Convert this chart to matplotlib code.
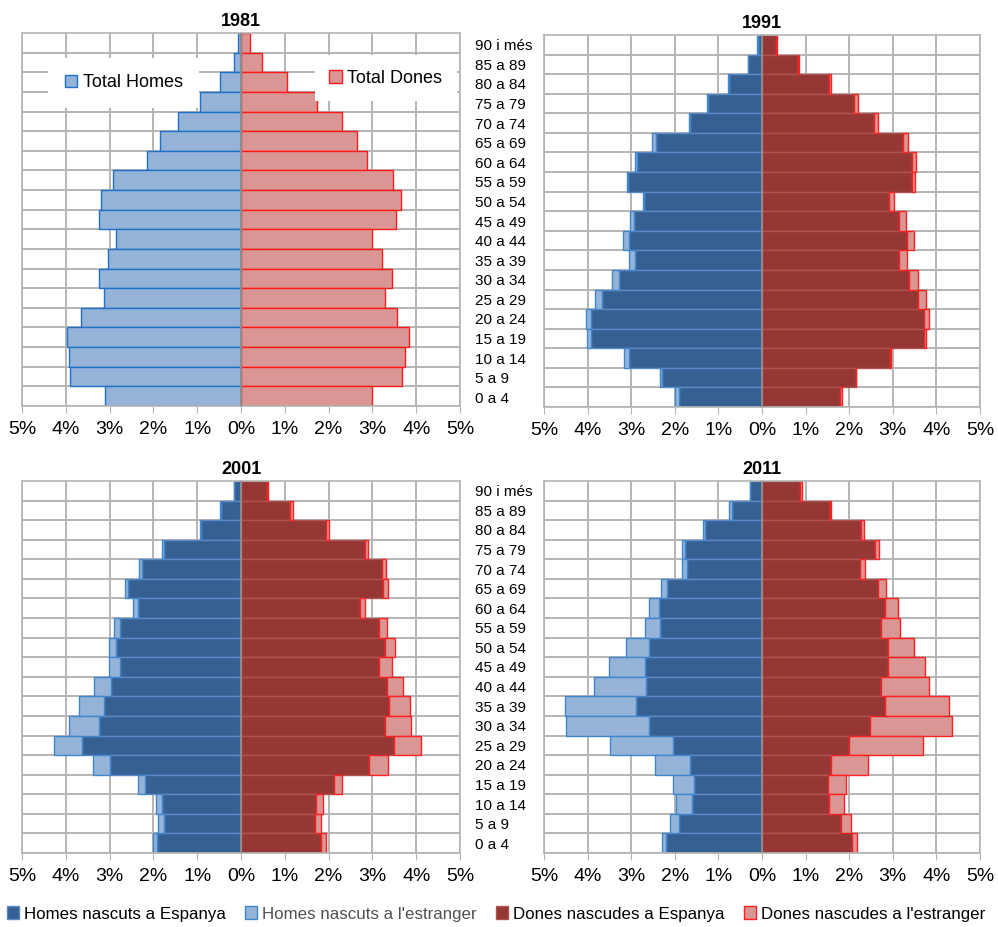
import matplotlib.pyplot as plt
import numpy as np

# age groups, top (oldest) to bottom (youngest)
ages = ["90 i més", "85 a 89", "80 a 84", "75 a 79", "70 a 74", "65 a 69", "60 a 64",
        "55 a 59", "50 a 54", "45 a 49", "40 a 44", "35 a 39", "30 a 34", "25 a 29",
        "20 a 24", "15 a 19", "10 a 14", "5 a 9", "0 a 4"]

# 1981: totals only (% of population)
homes_1981 = [0.06, 0.17, 0.49, 0.93, 1.44, 1.86, 2.15, 2.93, 3.19, 3.24, 2.85, 3.04, 3.24, 3.12, 3.66, 3.97, 3.93, 3.91, 3.10]
dones_1981 = [0.21, 0.47, 1.04, 1.73, 2.31, 2.65, 2.88, 3.48, 3.65, 3.53, 3.00, 3.22, 3.45, 3.29, 3.57, 3.83, 3.74, 3.67, 2.98]

# 1991
homes_esp_1991 = [0.10, 0.32, 0.76, 1.25, 1.66, 2.44, 2.86, 3.07, 2.70, 2.93, 3.05, 2.92, 3.29, 3.67, 3.92, 3.92, 3.05, 2.29, 1.91]
homes_ext_1991 = [0.02, 0.01, 0.02, 0.02, 0.02, 0.08, 0.06, 0.03, 0.03, 0.09, 0.13, 0.13, 0.15, 0.15, 0.11, 0.10, 0.11, 0.04, 0.08]
dones_esp_1991 = [0.31, 0.83, 1.54, 2.11, 2.56, 3.23, 3.45, 3.45, 2.92, 3.15, 3.32, 3.14, 3.38, 3.57, 3.72, 3.72, 2.94, 2.15, 1.78]
dones_ext_1991 = [0.03, 0.03, 0.04, 0.10, 0.09, 0.12, 0.09, 0.06, 0.10, 0.15, 0.16, 0.18, 0.20, 0.19, 0.11, 0.04, 0.03, 0.01, 0.06]

# 2001
homes_esp_2001 = [0.15, 0.46, 0.91, 1.76, 2.26, 2.58, 2.35, 2.77, 2.86, 2.76, 2.96, 3.13, 3.25, 3.62, 2.99, 2.19, 1.80, 1.76, 1.92]
homes_ext_2001 = [0.02, 0.01, 0.02, 0.04, 0.06, 0.07, 0.12, 0.12, 0.16, 0.26, 0.40, 0.58, 0.68, 0.65, 0.39, 0.16, 0.15, 0.13, 0.09]
dones_esp_2001 = [0.59, 1.13, 1.93, 2.84, 3.21, 3.25, 2.71, 3.16, 3.29, 3.16, 3.34, 3.37, 3.29, 3.49, 2.92, 2.12, 1.72, 1.68, 1.82]
dones_ext_2001 = [0.02, 0.06, 0.07, 0.06, 0.11, 0.11, 0.12, 0.18, 0.23, 0.29, 0.37, 0.49, 0.58, 0.63, 0.43, 0.18, 0.16, 0.14, 0.13]

# 2011
homes_esp_2011 = [0.27, 0.69, 1.31, 1.76, 1.73, 2.19, 2.37, 2.35, 2.59, 2.68, 2.66, 2.88, 2.59, 2.04, 1.66, 1.56, 1.61, 1.90, 2.20]
homes_ext_2011 = [0.01, 0.06, 0.04, 0.07, 0.10, 0.12, 0.22, 0.34, 0.52, 0.84, 1.19, 1.63, 1.90, 1.45, 0.79, 0.47, 0.36, 0.20, 0.10]
dones_esp_2011 = [0.88, 1.55, 2.27, 2.60, 2.24, 2.66, 2.81, 2.73, 2.89, 2.89, 2.74, 2.83, 2.47, 2.00, 1.59, 1.51, 1.53, 1.81, 2.06]
dones_ext_2011 = [0.03, 0.04, 0.07, 0.08, 0.13, 0.19, 0.31, 0.43, 0.60, 0.85, 1.08, 1.46, 1.89, 1.69, 0.85, 0.41, 0.35, 0.22, 0.11]

xticks = [-5, -4, -3, -2, -1, 0, 1, 2, 3, 4, 5]
xticklabels = [f"{abs(t)}%" for t in xticks]

DARK_BLUE, LIGHT_BLUE = "#376092", "#95B3D7"
DARK_RED, LIGHT_RED = "#953735", "#DA9694"
GRID = "#B4B4B4"

plt.rcParams['font.family'] = ['Liberation Sans', 'DejaVu Sans']

W, H = 998, 927
fig = plt.figure(figsize=(W / 100, H / 100), dpi=100)


def px_axes(x0, y0, x1, y1):
    return fig.add_axes([x0 / W, 1 - y1 / H, (x1 - x0) / W, (y1 - y0) / H])


def style_axes(ax, title, show_ages):
    n = len(ages)
    ax.set_xlim(-5, 5)
    ax.set_ylim(-0.5, n - 0.5)
    ax.set_xticks(xticks)
    ax.set_xticklabels(xticklabels, fontsize=14)
    ax.set_yticks(np.arange(n) - 0.5, minor=True)
    ax.grid(True, axis='x', color=GRID, linewidth=1.4)
    ax.grid(True, axis='y', which='minor', color=GRID, linewidth=1.4)
    ax.set_axisbelow(True)
    ax.tick_params(axis='x', length=5, color=GRID, pad=6)
    ax.tick_params(axis='y', which='minor', length=0)
    if show_ages:
        ax.set_yticks(np.arange(n)[::-1])
        ax.set_yticklabels(ages, fontsize=11, ha='left')
        ax.tick_params(axis='y', length=0, pad=50)
    else:
        ax.set_yticks([])
    for s in ax.spines.values():
        s.set_color(GRID)
        s.set_linewidth(1.2)
    ax.axvline(0, color="#8C8C8C", linewidth=1.5, zorder=5)
    ax.set_title(title, fontsize=13, fontweight='bold', pad=5)


def pyramid(ax, h_esp, h_ext, d_esp, d_ext):
    y = np.arange(len(ages))[::-1]
    h_esp, h_ext = np.array(h_esp), np.array(h_ext)
    d_esp, d_ext = np.array(d_esp), np.array(d_ext)
    b1 = ax.barh(y, -h_esp, height=1.0, color=DARK_BLUE, edgecolor="#5B8BC6", linewidth=1.0, zorder=2)
    b2 = ax.barh(y, -h_ext, left=-h_esp, height=1.0, color=LIGHT_BLUE, edgecolor="#3F86D0", linewidth=1.0, zorder=2)
    b3 = ax.barh(y, d_esp, height=1.0, color=DARK_RED, edgecolor="#B05452", linewidth=1.0, zorder=2)
    b4 = ax.barh(y, d_ext, left=d_esp, height=1.0, color=LIGHT_RED, edgecolor="#FF2020", linewidth=1.0, zorder=2)
    return b1, b2, b3, b4


# 1981
ax1 = px_axes(22, 33, 460, 406)
y = np.arange(len(ages))[::-1]
th = ax1.barh(y, -np.array(homes_1981), height=1.0, color=LIGHT_BLUE, edgecolor="#1F70C8", linewidth=1.0, zorder=2)
td = ax1.barh(y, dones_1981, height=1.0, color=LIGHT_RED, edgecolor="#FF1A1A", linewidth=1.0, zorder=2)
style_axes(ax1, "1981", False)
leg_h = ax1.legend([th], ["Total Homes"], loc='center', bbox_to_anchor=(0.232, 0.866), fontsize=13,
                   frameon=True, facecolor='white', edgecolor='none', framealpha=1, fancybox=False,
                   handlelength=0.7, handleheight=0.7, handletextpad=0.3, borderpad=0.9)
leg_h.set_zorder(10)
ax1.add_artist(leg_h)
leg_d = ax1.legend([td], ["Total Dones"], loc='center', bbox_to_anchor=(0.83, 0.879), fontsize=13,
                   frameon=True, facecolor='white', edgecolor='none', framealpha=1, fancybox=False,
                   handlelength=0.7, handleheight=0.7, handletextpad=0.3, borderpad=0.8)
leg_d.set_zorder(10)

# 1991
ax2 = px_axes(544, 35, 980, 407)
pyramid(ax2, homes_esp_1991, homes_ext_1991, dones_esp_1991, dones_ext_1991)
style_axes(ax2, "1991", True)

# 2001
ax3 = px_axes(22, 481, 460, 853)
pyramid(ax3, homes_esp_2001, homes_ext_2001, dones_esp_2001, dones_ext_2001)
style_axes(ax3, "2001", False)

# 2011
ax4 = px_axes(544, 481, 980, 853)
bars = pyramid(ax4, homes_esp_2011, homes_ext_2011, dones_esp_2011, dones_ext_2011)
style_axes(ax4, "2011", True)

labels = ["Homes nascuts a Espanya", "Homes nascuts a l'estranger",
          "Dones nascudes a Espanya", "Dones nascudes a l'estranger"]
leg = fig.legend(bars, labels, loc='center', bbox_to_anchor=(0.497, 1 - 914 / H), ncol=4, fontsize=12.2,
                 frameon=False, handlelength=0.7, handleheight=0.8, handletextpad=0.3, columnspacing=1.15,
                 borderaxespad=0, borderpad=0)
leg.get_texts()[1].set_color("#505050")

fig.savefig("out.png", dpi=100)
